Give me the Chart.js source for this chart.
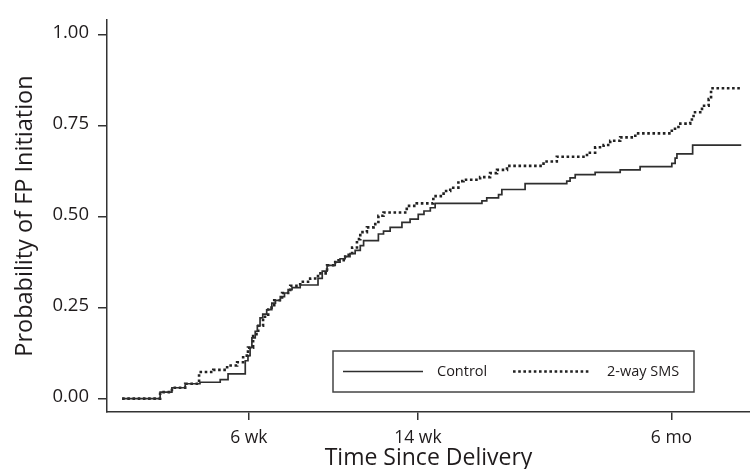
<!DOCTYPE html>
<html><head><meta charset="utf-8">
<script src="https://cdn.jsdelivr.net/npm/chart.js@4.4.1/dist/chart.umd.min.js"></script>
<style>html,body{margin:0;padding:0;background:#fff;}#wrap{width:750px;height:469px;position:relative}</style>
</head><body><div id="wrap"><canvas id="c" width="750" height="469"></canvas></div>
<script>
const seriesLabels = ['Control', '2-way SMS'];
const controlDays = [0,12.6,16.5,20.9,25.8,32.5,35.1,40.8,41.7,42.4,43.0,44.1,44.8,45.7,46.6,47.9,49.6,50.8,52.4,53.8,55.0,56.3,59.0,64.9,66.3,67.9,70.6,72.2,73.9,75.5,77.2,78.9,80.0,84.9,86.6,88.8,92.7,95.4,98.1,100.0,102.1,103.7,119.2,120.8,124.7,125.8,133.5,147.3,148.4,150.1,156.7,165.0,171.6,182.1,183.2,183.8,189.0,205.1];
const controlProb = [0,0.018,0.030,0.041,0.045,0.052,0.068,0.104,0.118,0.140,0.167,0.185,0.200,0.222,0.232,0.244,0.262,0.270,0.280,0.290,0.299,0.305,0.312,0.330,0.350,0.366,0.375,0.384,0.390,0.398,0.407,0.420,0.434,0.452,0.460,0.470,0.484,0.493,0.506,0.515,0.524,0.536,0.543,0.551,0.560,0.574,0.590,0.597,0.606,0.615,0.621,0.628,0.637,0.646,0.660,0.672,0.696,0.696];
const smsDays = [0,12.6,16.5,20.9,25.5,30.2,34.8,38.1,40.1,41.7,43.4,45.1,46.7,48.4,50.4,53.0,55.7,59.0,62.3,64.9,67.9,70.6,73.9,76.2,77.8,78.9,81.1,83.3,84.9,86.6,94.3,97.6,103.1,106.5,108.7,111.4,113.1,118.6,121.9,124.2,127.5,139.6,144.0,154.0,156.7,159.5,161.7,165.0,170.0,182.1,184.3,188.2,189.3,192.1,194.3,195.1,205.1];
const smsProb = [0,0.018,0.030,0.041,0.073,0.079,0.091,0.100,0.118,0.140,0.177,0.200,0.225,0.250,0.270,0.290,0.310,0.321,0.330,0.344,0.366,0.380,0.395,0.415,0.438,0.457,0.470,0.479,0.502,0.511,0.529,0.536,0.556,0.570,0.579,0.597,0.601,0.608,0.619,0.628,0.639,0.651,0.664,0.675,0.690,0.696,0.708,0.717,0.728,0.741,0.755,0.766,0.786,0.804,0.822,0.852,0.852];
const xTickDays = [42, 98, 182];
const xTickLabels = ['6 wk', '14 wk', '6 mo'];
const yTickValues = [0, 0.25, 0.5, 0.75, 1];
const yTickLabels = ['0.00', '0.25', '0.50', '0.75', '1.00'];
const xTitle = 'Time Since Delivery';
const yTitle = 'Probability of FP Initiation';

const FONT = "'Open Sans', 'Noto Sans', sans-serif";
const INK = '#1f1b1c';
const AXIS = '#333';

const toPts = (xs, ys) => xs.map((x, i) => ({x: x, y: ys[i]}));

const legendBox = {
  id: 'legendBox',
  afterDraw(chart) {
    const ctx = chart.ctx;
    const L = 333, T = 351, R = 694, B = 392;
    ctx.save();
    ctx.strokeStyle = '#444';
    ctx.lineWidth = 1.5;
    ctx.strokeRect(L, T, R - L, B - T);
    const ym = (T + B) / 2;
    const items = [
      {x0: 343, x1: 423, tx: 437},
      {x0: 513, x1: 591, tx: 607}
    ];
    chart.data.datasets.forEach((ds, i) => {
      const it = items[i];
      ctx.beginPath();
      ctx.strokeStyle = ds.borderColor;
      ctx.lineWidth = ds.borderWidth;
      ctx.setLineDash(ds.borderDash || []);
      ctx.moveTo(it.x0, ym);
      ctx.lineTo(it.x1, ym);
      ctx.stroke();
      ctx.setLineDash([]);
      ctx.fillStyle = INK;
      ctx.font = "14.5px " + FONT;
      ctx.textBaseline = 'middle';
      ctx.textAlign = 'left';
      ctx.fillText(ds.label, it.tx, ym);
    });
    ctx.restore();
  }
};

new Chart(document.getElementById('c'), {
  type: 'line',
  data: {
    datasets: [
      {label: seriesLabels[0], data: toPts(controlDays, controlProb), stepped: true,
       borderColor: '#2e2e2e', borderWidth: 1.7, pointRadius: 0, fill: false},
      {label: seriesLabels[1], data: toPts(smsDays, smsProb), stepped: true,
       borderColor: '#222', borderWidth: 2.6, borderDash: [2.6, 2.6], borderCapStyle: 'butt',
       pointRadius: 0, fill: false}
    ]
  },
  options: {
    responsive: false,
    animation: false,
    devicePixelRatio: 1,
    layout: {padding: {top: 15, right: 0, left: 0, bottom: 0}},
    plugins: {legend: {display: false}, tooltip: {enabled: false}},
    scales: {
      x: {
        type: 'linear', min: -5, max: 208,
        afterBuildTicks: s => { s.ticks = xTickDays.map(v => ({value: v})); },
        afterFit: s => { s.height = 57; },
        ticks: {
          autoSkip: false, maxRotation: 0, padding: 8,
          color: INK, font: {family: FONT, size: 17.5},
          callback: v => xTickLabels[xTickDays.indexOf(v)]
        },
        grid: {drawOnChartArea: false, drawTicks: true, tickLength: 8, color: AXIS, lineWidth: 1.5},
        border: {display: true, color: AXIS, width: 1.5},
        title: {display: true, text: xTitle, color: INK, font: {family: FONT, size: 23}, padding: {top: 0, bottom: -3}}
      },
      y: {
        type: 'linear', min: -0.0366, max: 1.039,
        afterBuildTicks: s => { s.ticks = yTickValues.map(v => ({value: v})); },
        afterFit: s => { s.width = 107; },
        ticks: {
          padding: 9, labelOffset: -2, color: INK, font: {family: FONT, size: 18.5},
          callback: v => yTickLabels[yTickValues.indexOf(v)]
        },
        grid: {drawOnChartArea: false, drawTicks: true, tickLength: 9, color: AXIS, lineWidth: 1.5},
        border: {display: true, color: AXIS, width: 1.5},
        title: {display: true, text: yTitle, color: INK, font: {family: FONT, size: 23.5}, padding: {top: 11, bottom: 0}}
      }
    }
  },
  plugins: [legendBox]
});
</script>
</body></html>
